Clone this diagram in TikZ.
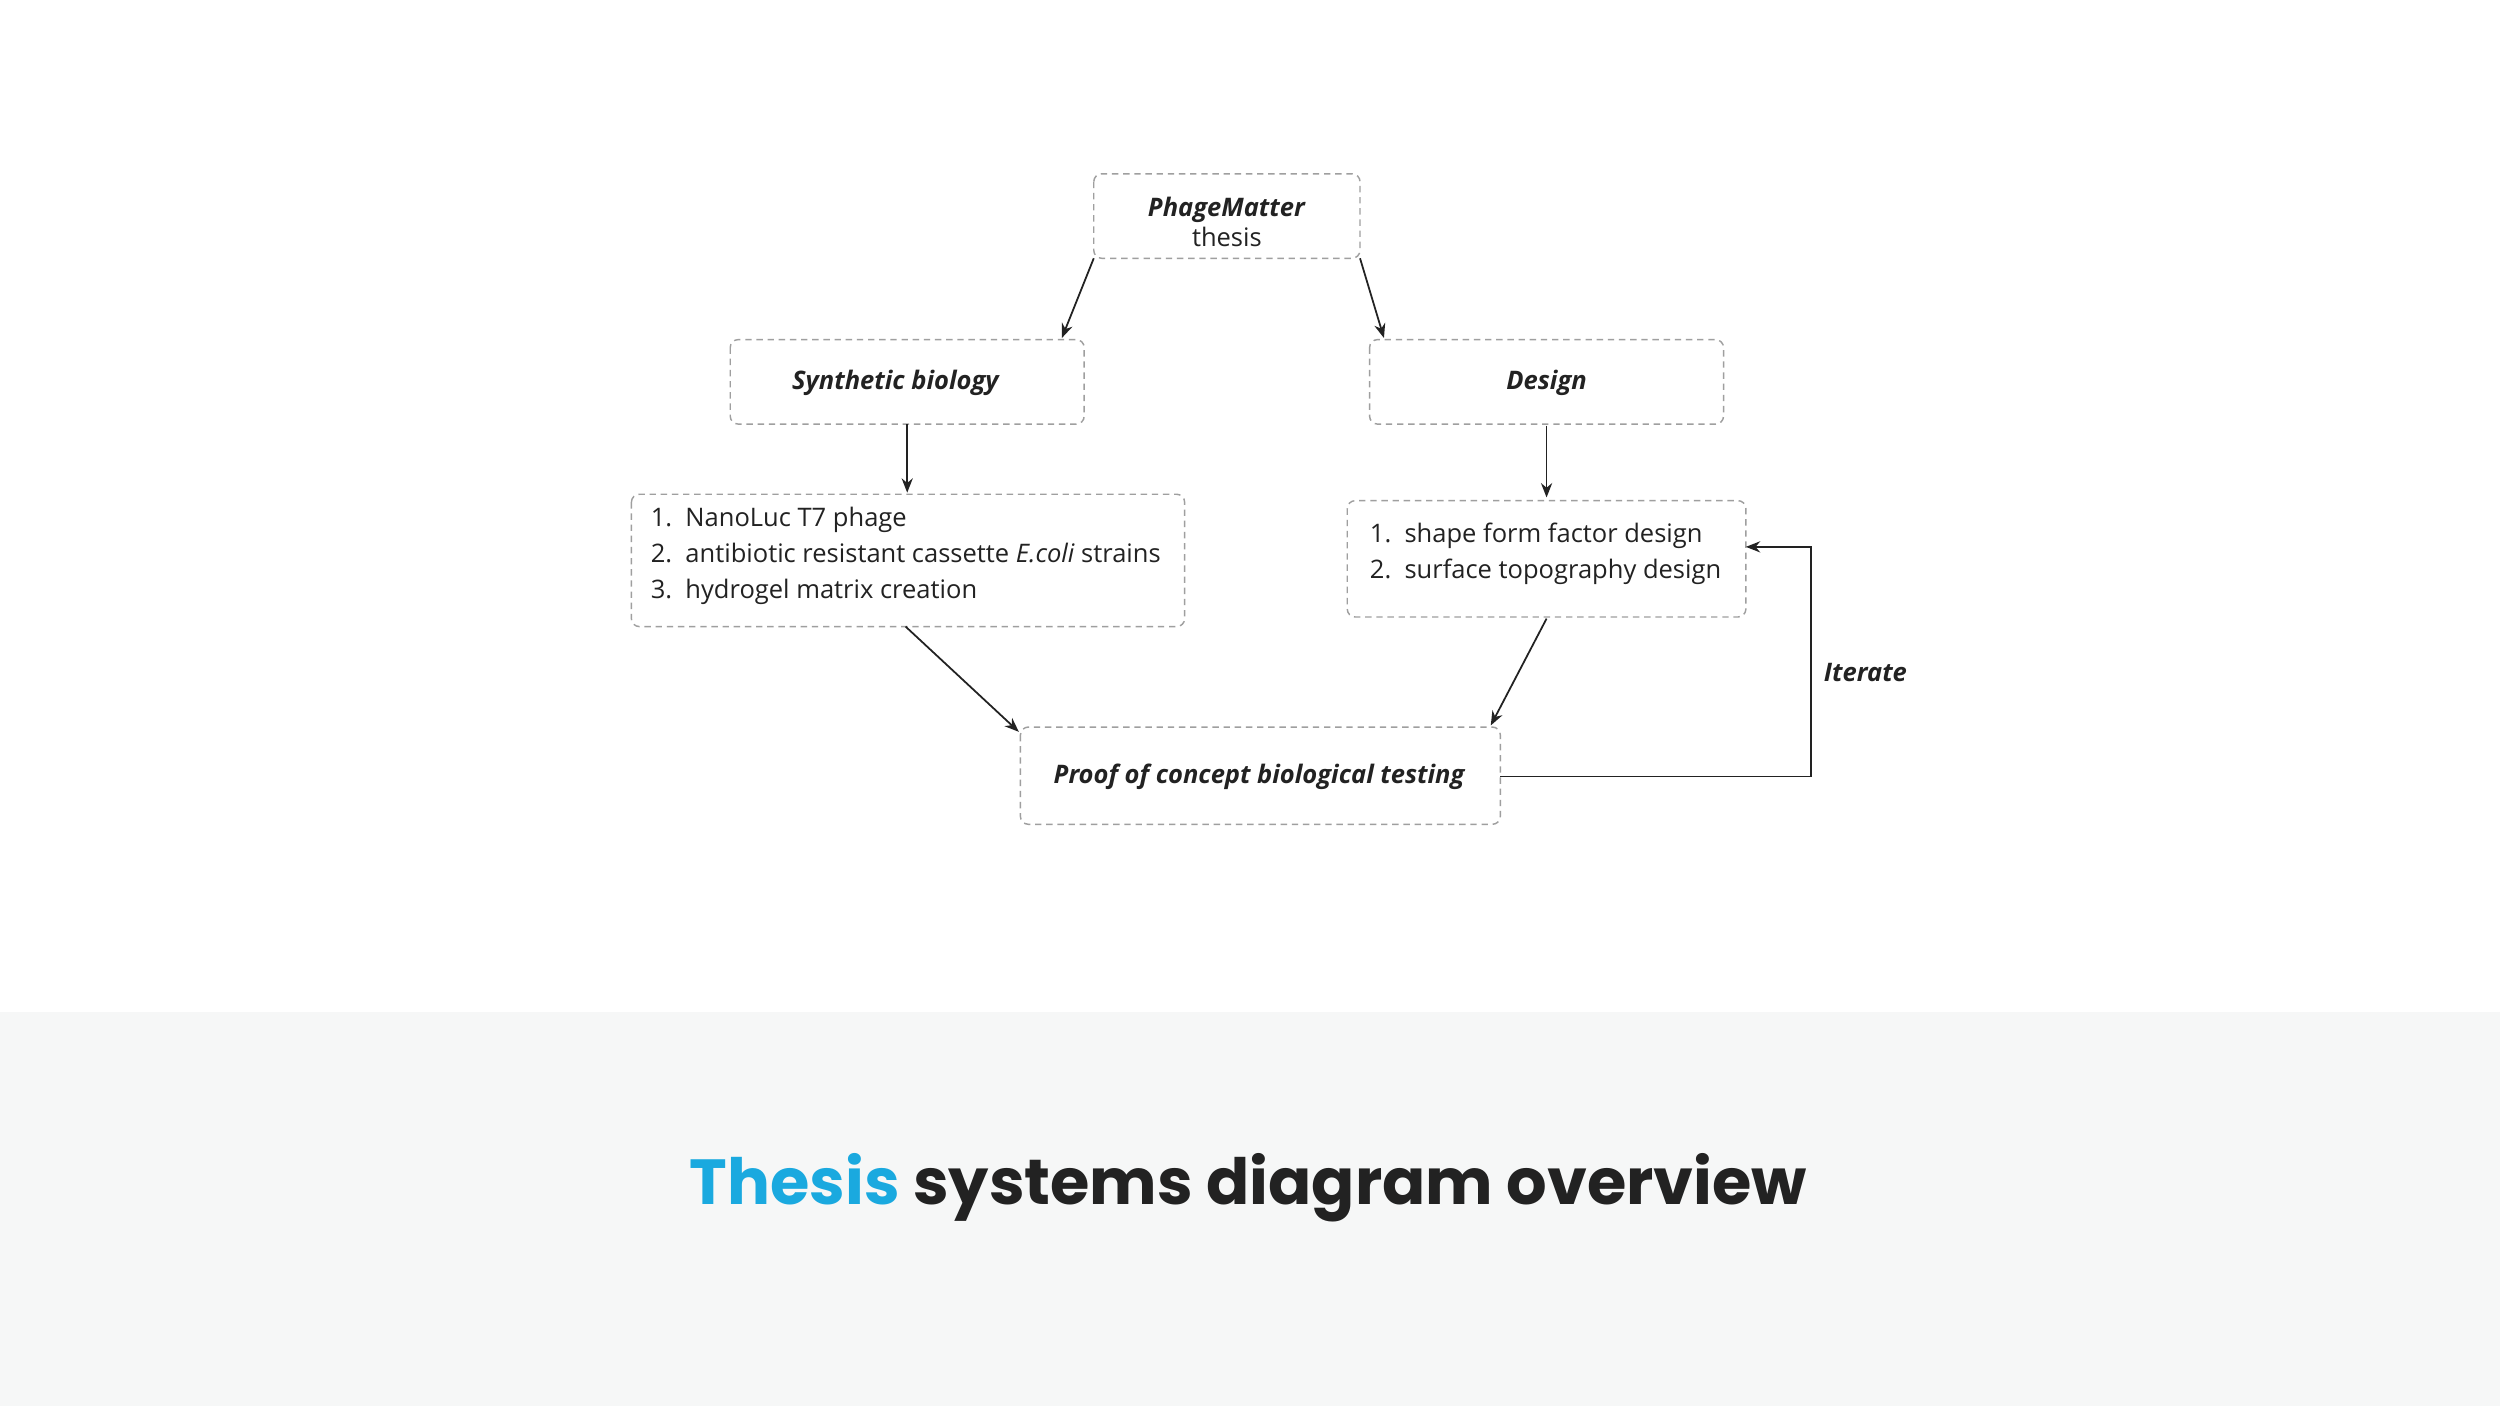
\documentclass[tikz,border=0pt]{standalone}
\usepackage{fontspec}
\setmainfont{Open Sans}
\newfontfamily\titlefont{Poppins}
\usetikzlibrary{arrows.meta}
\definecolor{band}{HTML}{F6F7F7}
\definecolor{cyanT}{HTML}{1AA9DF}
\definecolor{ink}{HTML}{222222}
\begin{document}
\begin{tikzpicture}[x=1pt,y=-1pt,
  box/.style={draw=gray!75, dashed, dash pattern=on 4pt off 3pt, rounded corners=5pt, line width=0.9pt},
  arr/.style={-{Stealth[length=9pt,width=7pt]}, line width=1.1pt, ink},
  lbl/.style={font=\fontsize{16}{19}\selectfont, text=ink}]
\fill[white] (0,0) rectangle (1568,882);
\fill[band] (0,635) rectangle (1568,882);
\useasboundingbox (0,0) rectangle (1568,882);

\draw[box] (686,109) rectangle (853,162);
\node[lbl, align=center] (pm) at (769.5,139) {\textbf{\textit{PhageMatter}}\\thesis};
\draw[box] (458,213) rectangle (680,266);
\node[lbl] (sb) at (562,240) {\textbf{\textit{Synthetic biology}}};
\draw[box] (859,213) rectangle (1081,266);
\node[lbl] (de) at (970,240) {\textbf{\textit{Design}}};
\draw[box] (396,310) rectangle (743,393);
\node[lbl, anchor=north west, align=left, inner sep=0pt] (l1) at (408,318)
 {1.\ \ NanoLuc T7 phage\\[3.5pt]2.\ \ antibiotic resistant cassette \textit{E.coli} strains\\[3.5pt]3.\ \ hydrogel matrix creation};
\draw[box] (845,314) rectangle (1095,387);
\node[lbl, anchor=north west, align=left, inner sep=0pt] (l2) at (859,328)
 {1.\ \ shape form factor design\\[3.5pt]2.\ \ surface topography design};
\draw[box] (640,456) rectangle (941,517);
\node[lbl] (pc) at (790,487) {\textbf{\textit{Proof of concept biological testing}}};
\node[lbl] (it) at (1170,422) {\textbf{\textit{Iterate}}};

\coordinate (a1) at (686,162); \coordinate (a2) at (666,212);
\coordinate (b1) at (853,162); \coordinate (b2) at (868,212);
\coordinate (c1) at (569,266); \coordinate (c2) at (569,309);
\coordinate (d1) at (970,267); \coordinate (d2) at (970,312);
\coordinate (e1) at (568,393); \coordinate (e2) at (639,459);
\coordinate (f1) at (970,388); \coordinate (f2) at (935,455);
\coordinate (g1) at (941,487); \coordinate (g2) at (1136,487); \coordinate (g3) at (1136,343); \coordinate (g4) at (1095,343);
\draw[arr] (a1) -- (a2);
\draw[arr] (b1) -- (b2);
\draw[arr] (c1) -- (c2);
\draw[arr] (d1) -- (d2);
\draw[arr] (e1) -- (e2);
\draw[arr] (f1) -- (f2);
\draw[arr] (g1) -- (g2) -- (g3) -- (g4);

\node[font=\titlefont\fontsize{40}{48}\selectfont\bfseries] (title) at (783,745)
 {\textcolor{cyanT}{Thesis} \textcolor{ink}{systems diagram overview}};
\end{tikzpicture}
\end{document}
